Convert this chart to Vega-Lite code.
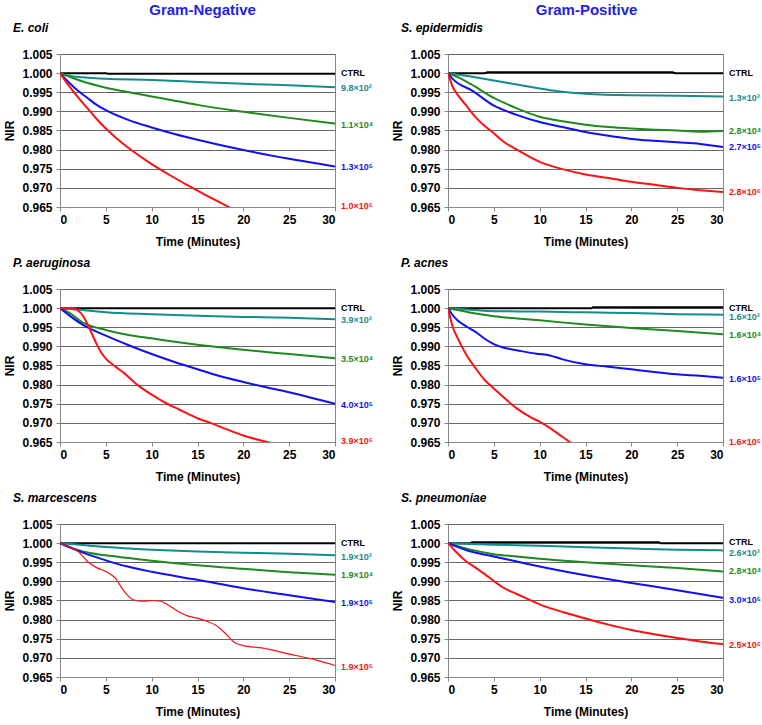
{
"$schema": "https://vega.github.io/schema/vega-lite/v6.json",
"padding": {"left": 3, "top": 2, "right": 1, "bottom": 2},
"config": {
  "font": "Liberation Sans",
  "view": {"stroke": "#888888"},
  "axis": {"labelFont": "Liberation Sans", "labelFontSize": 12, "labelFontWeight": "bold", "labelColor": "#000000",
    "titleFont": "Liberation Sans", "titleFontSize": 12, "titleFontWeight": "bold", "titleColor": "#000000",
    "domainColor": "#888888", "tickColor": "#888888", "tickSize": 4, "gridColor": "#666666", "gridOpacity": 1, "labelOverlap": false},
  "axisX": {"grid": false, "labelPadding": 3, "titlePadding": 11},
  "axisY": {"grid": true, "labelPadding": 4, "titlePadding": 5},
  "title": {"font": "Liberation Sans", "fontSize": 12, "fontStyle": "italic", "fontWeight": "bold", "anchor": "start", "frame": "bounds", "offset": 13, "color": "#000000", "dx": 9},
  "concat": {"spacing": 8}
},
"datasets": {
"lines": [
{"p":"EC","s":"CTRL","t":0,"v":1.0},{"p":"EC","s":"CTRL","t":5,"v":1.0},{"p":"EC","s":"CTRL","t":5.2,"v":0.99985},{"p":"EC","s":"CTRL","t":30,"v":0.99985},
{"p":"EC","s":"a","t":0,"v":1.0},{"p":"EC","s":"a","t":1,"v":0.9993},{"p":"EC","s":"a","t":2.5,"v":0.9989},{"p":"EC","s":"a","t":5,"v":0.9985},{"p":"EC","s":"a","t":10,"v":0.9982},{"p":"EC","s":"a","t":15,"v":0.9977},{"p":"EC","s":"a","t":20,"v":0.9972},{"p":"EC","s":"a","t":25,"v":0.9968},{"p":"EC","s":"a","t":30,"v":0.9963},
{"p":"EC","s":"b","t":0,"v":1.0},{"p":"EC","s":"b","t":1,"v":0.9991},{"p":"EC","s":"b","t":2.5,"v":0.9978},{"p":"EC","s":"b","t":5,"v":0.9962},{"p":"EC","s":"b","t":7.5,"v":0.995},{"p":"EC","s":"b","t":10,"v":0.9939},{"p":"EC","s":"b","t":12.5,"v":0.9928},{"p":"EC","s":"b","t":15,"v":0.9917},{"p":"EC","s":"b","t":20,"v":0.9899},{"p":"EC","s":"b","t":25,"v":0.9883},{"p":"EC","s":"b","t":30,"v":0.9868},
{"p":"EC","s":"c","t":0,"v":1.0},{"p":"EC","s":"c","t":1,"v":0.9975},{"p":"EC","s":"c","t":2,"v":0.9953},{"p":"EC","s":"c","t":3,"v":0.9935},{"p":"EC","s":"c","t":4,"v":0.9917},{"p":"EC","s":"c","t":5,"v":0.9903},{"p":"EC","s":"c","t":7.5,"v":0.9877},{"p":"EC","s":"c","t":10,"v":0.9858},{"p":"EC","s":"c","t":12.5,"v":0.9841},{"p":"EC","s":"c","t":15,"v":0.9826},{"p":"EC","s":"c","t":20,"v":0.9799},{"p":"EC","s":"c","t":25,"v":0.9776},{"p":"EC","s":"c","t":30,"v":0.9756},
{"p":"EC","s":"d","t":0,"v":1.0},{"p":"EC","s":"d","t":1,"v":0.9966},{"p":"EC","s":"d","t":2,"v":0.9936},{"p":"EC","s":"d","t":3,"v":0.9908},{"p":"EC","s":"d","t":4,"v":0.988},{"p":"EC","s":"d","t":5,"v":0.9855},{"p":"EC","s":"d","t":6,"v":0.9833},{"p":"EC","s":"d","t":8,"v":0.9795},{"p":"EC","s":"d","t":10,"v":0.9762},{"p":"EC","s":"d","t":12,"v":0.9733},{"p":"EC","s":"d","t":14,"v":0.9706},{"p":"EC","s":"d","t":16,"v":0.968},{"p":"EC","s":"d","t":18,"v":0.9655},{"p":"EC","s":"d","t":20,"v":0.963},

{"p":"SE","s":"CTRL","t":0,"v":1.0},{"p":"SE","s":"CTRL","t":4,"v":1.0},{"p":"SE","s":"CTRL","t":4.3,"v":1.0002},{"p":"SE","s":"CTRL","t":24.5,"v":1.0002},{"p":"SE","s":"CTRL","t":24.8,"v":1.0},{"p":"SE","s":"CTRL","t":30,"v":1.0},
{"p":"SE","s":"a","t":0,"v":1.0},{"p":"SE","s":"a","t":2.5,"v":0.9991},{"p":"SE","s":"a","t":5,"v":0.9981},{"p":"SE","s":"a","t":7.5,"v":0.997},{"p":"SE","s":"a","t":10,"v":0.996},{"p":"SE","s":"a","t":12.5,"v":0.9951},{"p":"SE","s":"a","t":15,"v":0.9946},{"p":"SE","s":"a","t":20,"v":0.9942},{"p":"SE","s":"a","t":25,"v":0.9941},{"p":"SE","s":"a","t":30,"v":0.9939},
{"p":"SE","s":"b","t":0,"v":1.0},{"p":"SE","s":"b","t":1,"v":0.999},{"p":"SE","s":"b","t":2.5,"v":0.9971},{"p":"SE","s":"b","t":5,"v":0.9935},{"p":"SE","s":"b","t":7.5,"v":0.9908},{"p":"SE","s":"b","t":10,"v":0.9886},{"p":"SE","s":"b","t":12.5,"v":0.9874},{"p":"SE","s":"b","t":15,"v":0.9865},{"p":"SE","s":"b","t":17.5,"v":0.9859},{"p":"SE","s":"b","t":20,"v":0.9855},{"p":"SE","s":"b","t":22.5,"v":0.9852},{"p":"SE","s":"b","t":25,"v":0.985},{"p":"SE","s":"b","t":27.5,"v":0.9847},{"p":"SE","s":"b","t":30,"v":0.9849},
{"p":"SE","s":"c","t":0,"v":1.0},{"p":"SE","s":"c","t":0.5,"v":0.9985},{"p":"SE","s":"c","t":1,"v":0.9975},{"p":"SE","s":"c","t":2.5,"v":0.9956},{"p":"SE","s":"c","t":5,"v":0.9915},{"p":"SE","s":"c","t":7.5,"v":0.9891},{"p":"SE","s":"c","t":10,"v":0.9872},{"p":"SE","s":"c","t":12.5,"v":0.9859},{"p":"SE","s":"c","t":15,"v":0.9846},{"p":"SE","s":"c","t":17.5,"v":0.9836},{"p":"SE","s":"c","t":20,"v":0.9828},{"p":"SE","s":"c","t":22.5,"v":0.9823},{"p":"SE","s":"c","t":25,"v":0.9819},{"p":"SE","s":"c","t":27.5,"v":0.9815},{"p":"SE","s":"c","t":30,"v":0.9807},
{"p":"SE","s":"d","t":0,"v":1.0},{"p":"SE","s":"d","t":0.5,"v":0.9965},{"p":"SE","s":"d","t":1,"v":0.9945},{"p":"SE","s":"d","t":2,"v":0.9915},{"p":"SE","s":"d","t":3,"v":0.9885},{"p":"SE","s":"d","t":4,"v":0.9862},{"p":"SE","s":"d","t":5,"v":0.9843},{"p":"SE","s":"d","t":6,"v":0.9822},{"p":"SE","s":"d","t":7.5,"v":0.98},{"p":"SE","s":"d","t":10,"v":0.9768},{"p":"SE","s":"d","t":12.5,"v":0.9749},{"p":"SE","s":"d","t":15,"v":0.9735},{"p":"SE","s":"d","t":17.5,"v":0.9726},{"p":"SE","s":"d","t":20,"v":0.9716},{"p":"SE","s":"d","t":22.5,"v":0.9708},{"p":"SE","s":"d","t":25,"v":0.97},{"p":"SE","s":"d","t":27.5,"v":0.9694},{"p":"SE","s":"d","t":30,"v":0.9689},

{"p":"PA","s":"CTRL","t":0,"v":1.0},{"p":"PA","s":"CTRL","t":30,"v":1.0},
{"p":"PA","s":"a","t":0,"v":1.0},{"p":"PA","s":"a","t":2.5,"v":0.9995},{"p":"PA","s":"a","t":5,"v":0.9989},{"p":"PA","s":"a","t":10,"v":0.9984},{"p":"PA","s":"a","t":15,"v":0.998},{"p":"PA","s":"a","t":20,"v":0.9977},{"p":"PA","s":"a","t":25,"v":0.9975},{"p":"PA","s":"a","t":30,"v":0.9971},
{"p":"PA","s":"b","t":0,"v":1.0},{"p":"PA","s":"b","t":1,"v":0.9988},{"p":"PA","s":"b","t":2.5,"v":0.9962},{"p":"PA","s":"b","t":5,"v":0.9943},{"p":"PA","s":"b","t":7.5,"v":0.993},{"p":"PA","s":"b","t":10,"v":0.9921},{"p":"PA","s":"b","t":12.5,"v":0.9912},{"p":"PA","s":"b","t":15,"v":0.9904},{"p":"PA","s":"b","t":20,"v":0.9891},{"p":"PA","s":"b","t":25,"v":0.988},{"p":"PA","s":"b","t":30,"v":0.9869},
{"p":"PA","s":"c","t":0,"v":1.0},{"p":"PA","s":"c","t":2.5,"v":0.9956},{"p":"PA","s":"c","t":5,"v":0.9928},{"p":"PA","s":"c","t":7.5,"v":0.9903},{"p":"PA","s":"c","t":10,"v":0.988},{"p":"PA","s":"c","t":12.5,"v":0.9859},{"p":"PA","s":"c","t":15,"v":0.984},{"p":"PA","s":"c","t":17.5,"v":0.9822},{"p":"PA","s":"c","t":20,"v":0.9807},{"p":"PA","s":"c","t":22.5,"v":0.9793},{"p":"PA","s":"c","t":25,"v":0.978},{"p":"PA","s":"c","t":27.5,"v":0.9765},{"p":"PA","s":"c","t":30,"v":0.975},
{"p":"PA","s":"d","t":0,"v":1.0},{"p":"PA","s":"d","t":1,"v":1.0},{"p":"PA","s":"d","t":1.5,"v":0.9999},{"p":"PA","s":"d","t":2,"v":0.9993},{"p":"PA","s":"d","t":2.5,"v":0.998},{"p":"PA","s":"d","t":3,"v":0.9958},{"p":"PA","s":"d","t":3.5,"v":0.9932},{"p":"PA","s":"d","t":4,"v":0.9906},{"p":"PA","s":"d","t":4.5,"v":0.9884},{"p":"PA","s":"d","t":5,"v":0.9868},{"p":"PA","s":"d","t":6,"v":0.9848},{"p":"PA","s":"d","t":7,"v":0.983},{"p":"PA","s":"d","t":8.4,"v":0.98},{"p":"PA","s":"d","t":10,"v":0.9774},{"p":"PA","s":"d","t":11.7,"v":0.975},{"p":"PA","s":"d","t":13,"v":0.9735},{"p":"PA","s":"d","t":15,"v":0.9712},{"p":"PA","s":"d","t":16.4,"v":0.97},{"p":"PA","s":"d","t":18,"v":0.9685},{"p":"PA","s":"d","t":20,"v":0.9667},{"p":"PA","s":"d","t":22.6,"v":0.965},{"p":"PA","s":"d","t":25,"v":0.9636},

{"p":"PN","s":"CTRL","t":0,"v":1.0},{"p":"PN","s":"CTRL","t":15.7,"v":1.0},{"p":"PN","s":"CTRL","t":15.8,"v":1.0002},{"p":"PN","s":"CTRL","t":30,"v":1.0002},
{"p":"PN","s":"a","t":0,"v":1.0},{"p":"PN","s":"a","t":2.5,"v":0.9996},{"p":"PN","s":"a","t":5,"v":0.9992},{"p":"PN","s":"a","t":10,"v":0.9991},{"p":"PN","s":"a","t":15,"v":0.9989},{"p":"PN","s":"a","t":20,"v":0.9987},{"p":"PN","s":"a","t":25,"v":0.9984},{"p":"PN","s":"a","t":30,"v":0.9983},
{"p":"PN","s":"b","t":0,"v":1.0},{"p":"PN","s":"b","t":1,"v":0.9995},{"p":"PN","s":"b","t":2.5,"v":0.9988},{"p":"PN","s":"b","t":5,"v":0.9979},{"p":"PN","s":"b","t":7.5,"v":0.9973},{"p":"PN","s":"b","t":10,"v":0.9968},{"p":"PN","s":"b","t":15,"v":0.9957},{"p":"PN","s":"b","t":20,"v":0.9948},{"p":"PN","s":"b","t":25,"v":0.994},{"p":"PN","s":"b","t":30,"v":0.9932},
{"p":"PN","s":"c","t":0,"v":1.0},{"p":"PN","s":"c","t":0.5,"v":0.9982},{"p":"PN","s":"c","t":1,"v":0.9969},{"p":"PN","s":"c","t":2,"v":0.9952},{"p":"PN","s":"c","t":3,"v":0.9938},{"p":"PN","s":"c","t":4,"v":0.992},{"p":"PN","s":"c","t":5,"v":0.9906},{"p":"PN","s":"c","t":6,"v":0.9897},{"p":"PN","s":"c","t":7.5,"v":0.989},{"p":"PN","s":"c","t":9,"v":0.9883},{"p":"PN","s":"c","t":10,"v":0.988},{"p":"PN","s":"c","t":11,"v":0.9877},{"p":"PN","s":"c","t":12.5,"v":0.9866},{"p":"PN","s":"c","t":15,"v":0.9853},{"p":"PN","s":"c","t":17.5,"v":0.9847},{"p":"PN","s":"c","t":20,"v":0.984},{"p":"PN","s":"c","t":22.5,"v":0.9833},{"p":"PN","s":"c","t":25,"v":0.9827},{"p":"PN","s":"c","t":27.5,"v":0.9823},{"p":"PN","s":"c","t":30,"v":0.9818},
{"p":"PN","s":"d","t":0,"v":1.0},{"p":"PN","s":"d","t":0.25,"v":0.9975},{"p":"PN","s":"d","t":0.5,"v":0.9952},{"p":"PN","s":"d","t":1,"v":0.9924},{"p":"PN","s":"d","t":2,"v":0.9878},{"p":"PN","s":"d","t":3,"v":0.9843},{"p":"PN","s":"d","t":4,"v":0.9812},{"p":"PN","s":"d","t":5,"v":0.979},{"p":"PN","s":"d","t":6,"v":0.9768},{"p":"PN","s":"d","t":7.5,"v":0.9738},{"p":"PN","s":"d","t":9,"v":0.9715},{"p":"PN","s":"d","t":10,"v":0.9703},{"p":"PN","s":"d","t":12,"v":0.9672},{"p":"PN","s":"d","t":13.3,"v":0.965},{"p":"PN","s":"d","t":15,"v":0.963},

{"p":"SM","s":"CTRL","t":0,"v":1.0},{"p":"SM","s":"CTRL","t":30,"v":1.0},
{"p":"SM","s":"a","t":0,"v":1.0},{"p":"SM","s":"a","t":2.5,"v":0.9995},{"p":"SM","s":"a","t":5,"v":0.999},{"p":"SM","s":"a","t":10,"v":0.9983},{"p":"SM","s":"a","t":15,"v":0.9978},{"p":"SM","s":"a","t":20,"v":0.9975},{"p":"SM","s":"a","t":25,"v":0.9972},{"p":"SM","s":"a","t":30,"v":0.9968},
{"p":"SM","s":"b","t":0,"v":1.0},{"p":"SM","s":"b","t":2.5,"v":0.9978},{"p":"SM","s":"b","t":5,"v":0.9968},{"p":"SM","s":"b","t":7.5,"v":0.9961},{"p":"SM","s":"b","t":10,"v":0.9954},{"p":"SM","s":"b","t":15,"v":0.9942},{"p":"SM","s":"b","t":20,"v":0.9933},{"p":"SM","s":"b","t":25,"v":0.9924},{"p":"SM","s":"b","t":30,"v":0.9917},
{"p":"SM","s":"c","t":0,"v":1.0},{"p":"SM","s":"c","t":2.5,"v":0.9975},{"p":"SM","s":"c","t":5,"v":0.9955},{"p":"SM","s":"c","t":7.5,"v":0.9938},{"p":"SM","s":"c","t":10,"v":0.9925},{"p":"SM","s":"c","t":15,"v":0.9904},{"p":"SM","s":"c","t":20,"v":0.9882},{"p":"SM","s":"c","t":25,"v":0.9864},{"p":"SM","s":"c","t":30,"v":0.9846},
{"p":"SM","s":"d","t":0,"v":1.0},{"p":"SM","s":"d","t":1,"v":0.9991},{"p":"SM","s":"d","t":2,"v":0.9978},{"p":"SM","s":"d","t":3,"v":0.9952},{"p":"SM","s":"d","t":4,"v":0.9936},{"p":"SM","s":"d","t":5,"v":0.9926},{"p":"SM","s":"d","t":6,"v":0.9909},{"p":"SM","s":"d","t":7,"v":0.9874},{"p":"SM","s":"d","t":8,"v":0.9852},{"p":"SM","s":"d","t":9,"v":0.9848},{"p":"SM","s":"d","t":10,"v":0.985},{"p":"SM","s":"d","t":11,"v":0.9848},{"p":"SM","s":"d","t":12,"v":0.9835},{"p":"SM","s":"d","t":13,"v":0.982},{"p":"SM","s":"d","t":14,"v":0.9809},{"p":"SM","s":"d","t":15,"v":0.9804},{"p":"SM","s":"d","t":16,"v":0.9796},{"p":"SM","s":"d","t":17,"v":0.9785},{"p":"SM","s":"d","t":18,"v":0.9765},{"p":"SM","s":"d","t":19,"v":0.9741},{"p":"SM","s":"d","t":20,"v":0.9732},{"p":"SM","s":"d","t":22,"v":0.9726},{"p":"SM","s":"d","t":25,"v":0.971},{"p":"SM","s":"d","t":28,"v":0.9694},{"p":"SM","s":"d","t":30,"v":0.968},

{"p":"SP","s":"CTRL","t":0,"v":1.0},{"p":"SP","s":"CTRL","t":2.4,"v":1.0},{"p":"SP","s":"CTRL","t":2.6,"v":1.0002},{"p":"SP","s":"CTRL","t":23,"v":1.0002},{"p":"SP","s":"CTRL","t":23.2,"v":1.0},{"p":"SP","s":"CTRL","t":30,"v":1.0},
{"p":"SP","s":"a","t":0,"v":1.0},{"p":"SP","s":"a","t":5,"v":0.9996},{"p":"SP","s":"a","t":10,"v":0.9993},{"p":"SP","s":"a","t":15,"v":0.9989},{"p":"SP","s":"a","t":20,"v":0.9986},{"p":"SP","s":"a","t":25,"v":0.9983},{"p":"SP","s":"a","t":30,"v":0.9981},
{"p":"SP","s":"b","t":0,"v":1.0},{"p":"SP","s":"b","t":2.5,"v":0.9983},{"p":"SP","s":"b","t":5,"v":0.9971},{"p":"SP","s":"b","t":7.5,"v":0.9965},{"p":"SP","s":"b","t":10,"v":0.9959},{"p":"SP","s":"b","t":15,"v":0.995},{"p":"SP","s":"b","t":20,"v":0.9942},{"p":"SP","s":"b","t":25,"v":0.9935},{"p":"SP","s":"b","t":30,"v":0.9926},
{"p":"SP","s":"c","t":0,"v":1.0},{"p":"SP","s":"c","t":2.5,"v":0.9978},{"p":"SP","s":"c","t":5,"v":0.9965},{"p":"SP","s":"c","t":7.5,"v":0.9952},{"p":"SP","s":"c","t":10,"v":0.9939},{"p":"SP","s":"c","t":15,"v":0.9916},{"p":"SP","s":"c","t":20,"v":0.9896},{"p":"SP","s":"c","t":25,"v":0.9877},{"p":"SP","s":"c","t":30,"v":0.9857},
{"p":"SP","s":"d","t":0,"v":1.0},{"p":"SP","s":"d","t":0.5,"v":0.9987},{"p":"SP","s":"d","t":1,"v":0.9974},{"p":"SP","s":"d","t":2,"v":0.9952},{"p":"SP","s":"d","t":3,"v":0.9936},{"p":"SP","s":"d","t":4,"v":0.9919},{"p":"SP","s":"d","t":5,"v":0.9901},{"p":"SP","s":"d","t":6,"v":0.9884},{"p":"SP","s":"d","t":7.5,"v":0.9867},{"p":"SP","s":"d","t":10,"v":0.984},{"p":"SP","s":"d","t":12.5,"v":0.982},{"p":"SP","s":"d","t":15,"v":0.9803},{"p":"SP","s":"d","t":17.5,"v":0.9787},{"p":"SP","s":"d","t":20,"v":0.9773},{"p":"SP","s":"d","t":22.5,"v":0.9762},{"p":"SP","s":"d","t":25,"v":0.9752},{"p":"SP","s":"d","t":27.5,"v":0.9743},{"p":"SP","s":"d","t":30,"v":0.9736}
],
"labels": [
{"p":"EC","s":"CTRL","label":"CTRL","v":1.0},{"p":"EC","s":"a","label":"9.8×10²","v":0.996},{"p":"EC","s":"b","label":"1.1×10⁴","v":0.9865},{"p":"EC","s":"c","label":"1.3×10⁵","v":0.9755},{"p":"EC","s":"d","label":"1.0×10⁶","v":0.9652},
{"p":"SE","s":"CTRL","label":"CTRL","v":1.0},{"p":"SE","s":"a","label":"1.3×10³","v":0.9935},{"p":"SE","s":"b","label":"2.8×10⁴","v":0.9848},{"p":"SE","s":"c","label":"2.7×10⁵","v":0.9806},{"p":"SE","s":"d","label":"2.8×10⁶","v":0.9688},
{"p":"PA","s":"CTRL","label":"CTRL","v":1.0},{"p":"PA","s":"a","label":"3.9×10³","v":0.9968},{"p":"PA","s":"b","label":"3.5×10⁴","v":0.9868},{"p":"PA","s":"c","label":"4.0×10⁵","v":0.9747},{"p":"PA","s":"d","label":"3.9×10⁶","v":0.9653},
{"p":"PN","s":"CTRL","label":"CTRL","v":1.0},{"p":"PN","s":"a","label":"1.6×10³","v":0.9977},{"p":"PN","s":"b","label":"1.6×10⁴","v":0.9929},{"p":"PN","s":"c","label":"1.6×10⁵","v":0.9815},{"p":"PN","s":"d","label":"1.6×10⁶","v":0.965},
{"p":"SM","s":"CTRL","label":"CTRL","v":1.0},{"p":"SM","s":"a","label":"1.9×10³","v":0.9964},{"p":"SM","s":"b","label":"1.9×10⁴","v":0.9916},{"p":"SM","s":"c","label":"1.9×10⁵","v":0.9843},{"p":"SM","s":"d","label":"1.9×10⁶","v":0.9677},
{"p":"SP","s":"CTRL","label":"CTRL","v":1.0004},{"p":"SP","s":"a","label":"2.6×10³","v":0.9975},{"p":"SP","s":"b","label":"2.8×10⁴","v":0.9926},{"p":"SP","s":"c","label":"3.0×10⁵","v":0.9852},{"p":"SP","s":"d","label":"2.5×10⁶","v":0.9734}
]
},
"hconcat": [
{
"title": {"text": "Gram-Negative", "fontSize": 15, "fontStyle": "normal", "fontWeight": "bold", "color": "#2222E6", "anchor": "middle", "frame": "bounds", "offset": 4, "dx": 14},
"spacing": 8,
"vconcat": [
{"title": "E. coli", "width": 275, "height": 153,
 "encoding": {"y": {"field": "v", "type": "quantitative", "scale": {"domain": [0.965, 1.005], "nice": false, "zero": false}, "axis": {"values": [0.965,0.97,0.975,0.98,0.985,0.99,0.995,1.0,1.005], "format": ".3f", "title": "NIR"}},
   "color": {"field": "s", "type": "nominal", "scale": {"domain": ["CTRL","a","b","c","d"], "range": ["#000000","#138C8C","#1E8A1E","#1010F5","#FF1010"]}, "legend": null}},
 "layer": [
 {"data": {"name": "lines"}, "transform": [{"filter": "datum.p === 'EC'"}], "mark": {"type": "line", "clip": true, "strokeWidth": 2, "interpolate": "monotone"},
  "encoding": {"x": {"field": "t", "type": "quantitative", "scale": {"domain": [0, 30], "nice": false}, "axis": {"values": [0,5,10,15,20,25,30], "title": "Time (Minutes)"}}}},
 {"data": {"name": "labels"}, "transform": [{"filter": "datum.p === 'EC'"}], "mark": {"type": "text", "align": "left", "baseline": "middle", "dx": 6, "fontSize": 9, "fontWeight": "bold", "font": "Liberation Sans"},
  "encoding": {"x": {"datum": 30, "type": "quantitative", "scale": {"domain": [0, 30], "nice": false}, "axis": {"values": [0,5,10,15,20,25,30], "title": "Time (Minutes)"}}, "text": {"field": "label"}}}
]},
{"title": "P. aeruginosa", "width": 275, "height": 153,
 "encoding": {"y": {"field": "v", "type": "quantitative", "scale": {"domain": [0.965, 1.005], "nice": false, "zero": false}, "axis": {"values": [0.965,0.97,0.975,0.98,0.985,0.99,0.995,1.0,1.005], "format": ".3f", "title": "NIR"}},
   "color": {"field": "s", "type": "nominal", "scale": {"domain": ["CTRL","a","b","c","d"], "range": ["#000000","#138C8C","#1E8A1E","#1010F5","#FF1010"]}, "legend": null}},
 "layer": [
 {"data": {"name": "lines"}, "transform": [{"filter": "datum.p === 'PA'"}], "mark": {"type": "line", "clip": true, "strokeWidth": 2, "interpolate": "monotone"},
  "encoding": {"x": {"field": "t", "type": "quantitative", "scale": {"domain": [0, 30], "nice": false}, "axis": {"values": [0,5,10,15,20,25,30], "title": "Time (Minutes)"}}}},
 {"data": {"name": "labels"}, "transform": [{"filter": "datum.p === 'PA'"}], "mark": {"type": "text", "align": "left", "baseline": "middle", "dx": 6, "fontSize": 9, "fontWeight": "bold", "font": "Liberation Sans"},
  "encoding": {"x": {"datum": 30, "type": "quantitative", "scale": {"domain": [0, 30], "nice": false}, "axis": {"values": [0,5,10,15,20,25,30], "title": "Time (Minutes)"}}, "text": {"field": "label"}}}
]},
{"title": "S. marcescens", "width": 275, "height": 153,
 "encoding": {"y": {"field": "v", "type": "quantitative", "scale": {"domain": [0.965, 1.005], "nice": false, "zero": false}, "axis": {"values": [0.965,0.97,0.975,0.98,0.985,0.99,0.995,1.0,1.005], "format": ".3f", "title": "NIR"}},
   "color": {"field": "s", "type": "nominal", "scale": {"domain": ["CTRL","a","b","c","d"], "range": ["#000000","#138C8C","#1E8A1E","#1010F5","#FF1010"]}, "legend": null}},
 "layer": [
 {"data": {"name": "lines"}, "transform": [{"filter": "datum.p === 'SM' && datum.s !== 'd'"}], "mark": {"type": "line", "clip": true, "strokeWidth": 2, "interpolate": "monotone"},
  "encoding": {"x": {"field": "t", "type": "quantitative", "scale": {"domain": [0, 30], "nice": false}, "axis": {"values": [0,5,10,15,20,25,30], "title": "Time (Minutes)"}}}},
 {"data": {"name": "lines"}, "transform": [{"filter": "datum.p === 'SM' && datum.s === 'd'"}], "mark": {"type": "line", "clip": true, "strokeWidth": 1.2, "interpolate": "monotone"},
  "encoding": {"x": {"field": "t", "type": "quantitative", "scale": {"domain": [0, 30], "nice": false}, "axis": {"values": [0,5,10,15,20,25,30], "title": "Time (Minutes)"}}}},
 {"data": {"name": "labels"}, "transform": [{"filter": "datum.p === 'SM'"}], "mark": {"type": "text", "align": "left", "baseline": "middle", "dx": 6, "fontSize": 9, "fontWeight": "bold", "font": "Liberation Sans"},
  "encoding": {"x": {"datum": 30, "type": "quantitative", "scale": {"domain": [0, 30], "nice": false}, "axis": {"values": [0,5,10,15,20,25,30], "title": "Time (Minutes)"}}, "text": {"field": "label"}}}
]}
]
},
{
"title": {"text": "Gram-Positive", "fontSize": 15, "fontStyle": "normal", "fontWeight": "bold", "color": "#2222E6", "anchor": "middle", "frame": "bounds", "offset": 4, "dx": 10},
"spacing": 8,
"vconcat": [
{"title": "S. epidermidis", "width": 275, "height": 153,
 "encoding": {"y": {"field": "v", "type": "quantitative", "scale": {"domain": [0.965, 1.005], "nice": false, "zero": false}, "axis": {"values": [0.965,0.97,0.975,0.98,0.985,0.99,0.995,1.0,1.005], "format": ".3f", "title": "NIR"}},
   "color": {"field": "s", "type": "nominal", "scale": {"domain": ["CTRL","a","b","c","d"], "range": ["#000000","#138C8C","#1E8A1E","#1010F5","#FF1010"]}, "legend": null}},
 "layer": [
 {"data": {"name": "lines"}, "transform": [{"filter": "datum.p === 'SE'"}], "mark": {"type": "line", "clip": true, "strokeWidth": 2, "interpolate": "monotone"},
  "encoding": {"x": {"field": "t", "type": "quantitative", "scale": {"domain": [0, 30], "nice": false}, "axis": {"values": [0,5,10,15,20,25,30], "title": "Time (Minutes)"}}}},
 {"data": {"name": "labels"}, "transform": [{"filter": "datum.p === 'SE'"}], "mark": {"type": "text", "align": "left", "baseline": "middle", "dx": 6, "fontSize": 9, "fontWeight": "bold", "font": "Liberation Sans"},
  "encoding": {"x": {"datum": 30, "type": "quantitative", "scale": {"domain": [0, 30], "nice": false}, "axis": {"values": [0,5,10,15,20,25,30], "title": "Time (Minutes)"}}, "text": {"field": "label"}}}
]},
{"title": "P. acnes", "width": 275, "height": 153,
 "encoding": {"y": {"field": "v", "type": "quantitative", "scale": {"domain": [0.965, 1.005], "nice": false, "zero": false}, "axis": {"values": [0.965,0.97,0.975,0.98,0.985,0.99,0.995,1.0,1.005], "format": ".3f", "title": "NIR"}},
   "color": {"field": "s", "type": "nominal", "scale": {"domain": ["CTRL","a","b","c","d"], "range": ["#000000","#138C8C","#1E8A1E","#1010F5","#FF1010"]}, "legend": null}},
 "layer": [
 {"data": {"name": "lines"}, "transform": [{"filter": "datum.p === 'PN'"}], "mark": {"type": "line", "clip": true, "strokeWidth": 2, "interpolate": "monotone"},
  "encoding": {"x": {"field": "t", "type": "quantitative", "scale": {"domain": [0, 30], "nice": false}, "axis": {"values": [0,5,10,15,20,25,30], "title": "Time (Minutes)"}}}},
 {"data": {"name": "labels"}, "transform": [{"filter": "datum.p === 'PN'"}], "mark": {"type": "text", "align": "left", "baseline": "middle", "dx": 6, "fontSize": 9, "fontWeight": "bold", "font": "Liberation Sans"},
  "encoding": {"x": {"datum": 30, "type": "quantitative", "scale": {"domain": [0, 30], "nice": false}, "axis": {"values": [0,5,10,15,20,25,30], "title": "Time (Minutes)"}}, "text": {"field": "label"}}}
]},
{"title": "S. pneumoniae", "width": 275, "height": 153,
 "encoding": {"y": {"field": "v", "type": "quantitative", "scale": {"domain": [0.965, 1.005], "nice": false, "zero": false}, "axis": {"values": [0.965,0.97,0.975,0.98,0.985,0.99,0.995,1.0,1.005], "format": ".3f", "title": "NIR"}},
   "color": {"field": "s", "type": "nominal", "scale": {"domain": ["CTRL","a","b","c","d"], "range": ["#000000","#138C8C","#1E8A1E","#1010F5","#FF1010"]}, "legend": null}},
 "layer": [
 {"data": {"name": "lines"}, "transform": [{"filter": "datum.p === 'SP'"}], "mark": {"type": "line", "clip": true, "strokeWidth": 2, "interpolate": "monotone"},
  "encoding": {"x": {"field": "t", "type": "quantitative", "scale": {"domain": [0, 30], "nice": false}, "axis": {"values": [0,5,10,15,20,25,30], "title": "Time (Minutes)"}}}},
 {"data": {"name": "labels"}, "transform": [{"filter": "datum.p === 'SP'"}], "mark": {"type": "text", "align": "left", "baseline": "middle", "dx": 6, "fontSize": 9, "fontWeight": "bold", "font": "Liberation Sans"},
  "encoding": {"x": {"datum": 30, "type": "quantitative", "scale": {"domain": [0, 30], "nice": false}, "axis": {"values": [0,5,10,15,20,25,30], "title": "Time (Minutes)"}}, "text": {"field": "label"}}}
]}
]
}
],
"spacing": 17
}
